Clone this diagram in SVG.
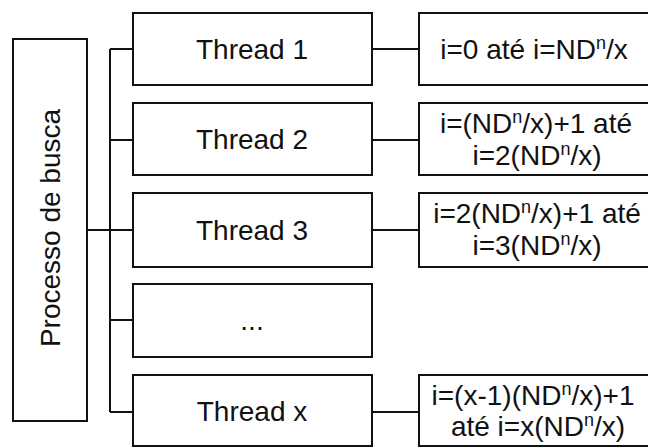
<svg xmlns="http://www.w3.org/2000/svg" width="648" height="447" viewBox="0 0 648 447">
<style>
.box{fill:#fff;stroke:#111;stroke-width:2}
.ln{fill:none;stroke:#111;stroke-width:2}
text{font-family:"Liberation Sans",Arial,sans-serif;font-size:28px;fill:#111}
.c{text-anchor:middle}
.sup{font-size:18px}
</style>
<rect width="648" height="447" fill="#fff"/>
<g id="connectors">
<path class="ln" d="M87 230H110M110 49V412M110 49H133M110 140H133M110 230H133M110 320H133M110 412H133"/>
<path class="ln" d="M372 49H419M372 140H419M372 230H419M372 412H419"/>
</g>
<g id="processo">
<rect class="box" x="13" y="39" width="74" height="382"/>
<text class="c" transform="translate(60,228) rotate(-90)">Processo de busca</text>
</g>
<g id="thread1">
<rect class="box" x="133" y="13" width="239" height="72"/>
<text class="c" x="252" y="59">Thread 1</text>
</g>
<g id="thread2">
<rect class="box" x="133" y="103" width="239" height="72"/>
<text class="c" x="252" y="149">Thread 2</text>
</g>
<g id="thread3">
<rect class="box" x="133" y="193" width="239" height="74"/>
<text class="c" x="252" y="240">Thread 3</text>
</g>
<g id="threaddots">
<rect class="box" x="133" y="284" width="239" height="73"/>
<text class="c" x="252" y="330">...</text>
</g>
<g id="threadx">
<rect class="box" x="133" y="375" width="239" height="71"/>
<text class="c" x="252" y="421">Thread x</text>
</g>
<g id="range1">
<rect class="box" x="419" y="13" width="240" height="72"/>
<text class="c" x="534" y="59">i=0 até i=ND<tspan class="sup" dy="-10">n</tspan><tspan dy="10">/x</tspan></text>
</g>
<g id="range2">
<rect class="box" x="419" y="103" width="240" height="72"/>
<text class="c" x="536" y="133">i=(ND<tspan class="sup" dy="-10">n</tspan><tspan dy="10">/x)+1 até</tspan></text>
<text class="c" x="537" y="165">i=2(ND<tspan class="sup" dy="-10">n</tspan><tspan dy="10">/x)</tspan></text>
</g>
<g id="range3">
<rect class="box" x="419" y="193" width="240" height="74"/>
<text class="c" x="537" y="223">i=2(ND<tspan class="sup" dy="-10">n</tspan><tspan dy="10">/x)+1 até</tspan></text>
<text class="c" x="537" y="255">i=3(ND<tspan class="sup" dy="-10">n</tspan><tspan dy="10">/x)</tspan></text>
</g>
<g id="rangex">
<rect class="box" x="419" y="375" width="240" height="71"/>
<text class="c" x="533" y="405">i=(x-1)(ND<tspan class="sup" dy="-10">n</tspan><tspan dy="10">/x)+1</tspan></text>
<text class="c" x="538" y="436">até i=x(ND<tspan class="sup" dy="-10">n</tspan><tspan dy="10">/x)</tspan></text>
</g>
</svg>
